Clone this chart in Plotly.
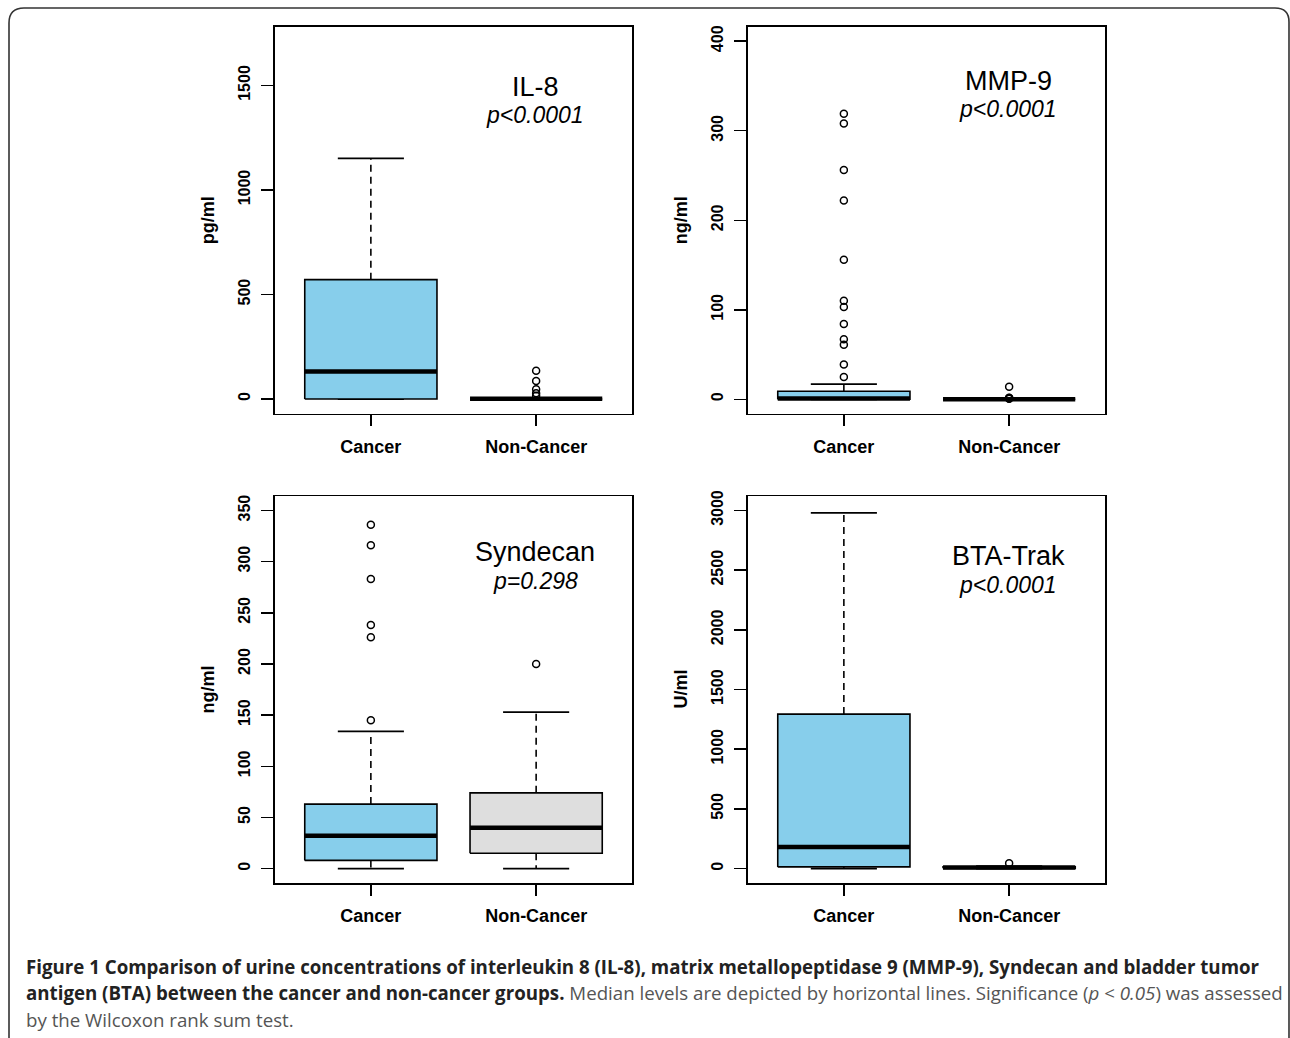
import plotly.graph_objects as go

W, H = 1290, 1038

# ---------------- data ----------------
categories = ["Cancer", "Non-Cancer"]
panel_names = ["IL-8", "MMP-9", "Syndecan", "BTA-Trak"]
p_labels = ["p<0.0001", "p<0.0001", "p=0.298", "p<0.0001"]
units = ["pg/ml", "ng/ml", "ng/ml", "U/ml"]

# five-number summaries per panel: [Cancer, Non-Cancer]
il8_lower = [0, 0];    il8_q1 = [0, 0];     il8_med = [132, 1];   il8_q3 = [571, 2];    il8_upper = [1151, 4]
il8_out = [[], [16, 28, 47, 86, 135]]

mmp_lower = [0, 0];    mmp_q1 = [0, 0];     mmp_med = [1, 0];     mmp_q3 = [9, 0.5];    mmp_upper = [17, 0.8]
mmp_out = [[319, 308, 256, 222, 156, 110, 103, 84, 67, 61, 39, 25], [14, 0.6, 1.0, 1.4, 1.8]]

syn_lower = [0, 0];    syn_q1 = [8, 15];    syn_med = [32, 40];   syn_q3 = [63, 74];    syn_upper = [134, 153]
syn_out = [[336, 316, 283, 238, 226, 145], [200]]

bta_lower = [0, 0];    bta_q1 = [14, 2];    bta_med = [181, 8];   bta_q3 = [1294, 14];  bta_upper = [2980, 20]
bta_out = [[], [45]]

y_ticks = [[0, 500, 1000, 1500], [0, 100, 200, 300, 400],
           [0, 50, 100, 150, 200, 250, 300, 350], [0, 500, 1000, 1500, 2000, 2500, 3000]]
y_ranges = [[-70, 1780], [-16, 416], [-14, 364], [-120, 3120]]

box_fill = ["#87CEEB", "#DEDEDE"]

panels = [
    (il8_lower, il8_q1, il8_med, il8_q3, il8_upper, il8_out),
    (mmp_lower, mmp_q1, mmp_med, mmp_q3, mmp_upper, mmp_out),
    (syn_lower, syn_q1, syn_med, syn_q3, syn_upper, syn_out),
    (bta_lower, bta_q1, bta_med, bta_q3, bta_upper, bta_out),
]

# ---------------- layout geometry (pixels) ----------------
frames = [(275, 632, 21, 410), (748, 1105, 21, 410), (275, 632, 493, 882), (748, 1105, 493, 882)]
px = lambda v: v / W
py = lambda v: 1 - v / H

FONT = "Liberation Sans, Arial, sans-serif"
fig = go.Figure()
annotations = []
layout = {}

HALF = 0.4     # half box width in category units
STAPLE = 0.2

for i, (lo, q1, med, q3, up, outs) in enumerate(panels):
    n = "" if i == 0 else str(i + 1)
    xa, ya = "x" + n, "y" + n
    for j, cat in enumerate(categories):
        pos = j + 1
        # whiskers (dashed)
        fig.add_trace(go.Scatter(x=[pos, pos, None, pos, pos], y=[q3[j], up[j], None, q1[j], lo[j]],
                                 mode="lines", line=dict(color="black", width=1.6, dash="7px,5px"),
                                 xaxis=xa, yaxis=ya, hoverinfo="skip", showlegend=False))
        # staples
        fig.add_trace(go.Scatter(x=[pos - STAPLE, pos + STAPLE, None, pos - STAPLE, pos + STAPLE],
                                 y=[up[j], up[j], None, lo[j], lo[j]],
                                 mode="lines", line=dict(color="black", width=1.8),
                                 xaxis=xa, yaxis=ya, hoverinfo="skip", showlegend=False))
        # box
        fig.add_trace(go.Scatter(x=[pos - HALF, pos + HALF, pos + HALF, pos - HALF, pos - HALF],
                                 y=[q1[j], q1[j], q3[j], q3[j], q1[j]],
                                 mode="lines", fill="toself", fillcolor=box_fill[j],
                                 line=dict(color="black", width=1.6),
                                 xaxis=xa, yaxis=ya, hoverinfo="skip", showlegend=False))
        # median
        fig.add_trace(go.Scatter(x=[pos - HALF, pos + HALF], y=[med[j], med[j]],
                                 mode="lines", line=dict(color="black", width=4.5),
                                 xaxis=xa, yaxis=ya, hoverinfo="skip", showlegend=False))
        # outliers
        if outs[j]:
            fig.add_trace(go.Scatter(x=[pos] * len(outs[j]), y=outs[j], mode="markers",
                                     marker=dict(symbol="circle-open", size=7, color="black",
                                                 line=dict(width=1.5, color="black")),
                                     xaxis=xa, yaxis=ya, hoverinfo="skip", showlegend=False))

    x0, x1, y0, y1 = frames[i]
    common = dict(showgrid=False, zeroline=False, showline=True, mirror=True,
                  linecolor="black", linewidth=1.6, ticks="outside", tickcolor="black",
                  tickwidth=1.5)
    layout["xaxis" + n] = dict(common, domain=[px(x0), px(x1)], range=[0.42, 2.58],
                               tickvals=[1, 2], ticktext=categories, ticklen=11,
                               ticklabelstandoff=5,
                               tickfont=dict(family=FONT, size=18, color="black", weight="bold"),
                               anchor=ya)
    layout["yaxis" + n] = dict(common, domain=[py(y1), py(y0)], range=y_ranges[i],
                               tickvals=y_ticks[i], ticktext=[str(t) for t in y_ticks[i]],
                               ticklen=12, tickangle=-90, ticklabelstandoff=5,
                               tickfont=dict(family=FONT, size=16, color="black", weight="bold"),
                               anchor=xa)
    title_x = [535, 1008, 535, 1008][i]
    title_y = [81, 75, 549, 553][i]
    annotations.append(dict(x=px(title_x), y=py(title_y), xref="paper", yref="paper",
                            text=panel_names[i], showarrow=False, xanchor="center", yanchor="middle",
                            font=dict(family=FONT, size=27, color="black")))
    annotations.append(dict(x=px(title_x), y=py(title_y + 29), xref="paper", yref="paper",
                            text="<i>" + p_labels[i] + "</i>", showarrow=False,
                            xanchor="center", yanchor="middle",
                            font=dict(family=FONT, size=23, color="black")))
    annotations.append(dict(x=px(x0 - 67), y=py((y0 + y1) / 2), xref="paper", yref="paper",
                            text="<b>" + units[i] + "</b>", showarrow=False, textangle=-90,
                            xanchor="center", yanchor="middle",
                            font=dict(family=FONT, size=18, color="black")))

# ---------------- caption ----------------
CAP_FONT = "Open Sans, sans-serif"
cap_lines = [
    "<b>Figure 1 Comparison of urine concentrations of interleukin 8 (IL-8), matrix metallopeptidase 9 (MMP-9), Syndecan and bladder tumor</b>",
    "<b>antigen (BTA) between the cancer and non-cancer groups.</b> <span style='color:#555555'>Median levels are depicted by horizontal lines. Significance (<i>p</i> &lt; <i>0.05</i>) was assessed</span>",
    "<span style='color:#555555'>by the Wilcoxon rank sum test.</span>",
]
for k, line in enumerate(cap_lines):
    annotations.append(dict(x=px(24), y=py(966 + 26.5 * k), xref="paper", yref="paper", text=line,
                            showarrow=False, xanchor="left", yanchor="middle",
                            font=dict(family=CAP_FONT, size=18.7, color="#222222")))

# rounded border
def P(xv, yv):
    return f"{px(xv):.5f},{py(yv):.5f}"
border = ("M " + P(9, 1060) + " L " + P(9, 17) + " Q " + P(9, 2) + " " + P(24, 2) +
          " L " + P(1275, 2) + " Q " + P(1289, 2) + " " + P(1289, 16) + " L " + P(1289, 1060))

fig.update_layout(
    width=W, height=H, margin=dict(l=0, r=0, t=0, b=0),
    paper_bgcolor="white", plot_bgcolor="white",
    showlegend=False, annotations=annotations,
    shapes=[dict(type="path", path=border, xref="paper", yref="paper",
                 line=dict(color="#333333", width=1.6))],
    **layout,
)

fig.write_html("out.html",
               config={"displayModeBar": False, "staticPlot": True},
               post_script="document.body.style.margin='0';document.body.style.padding='0';"
                           "document.body.style.overflow='hidden';"
                           "document.documentElement.style.overflow='hidden';"
                           "var gd=document.getElementById('{plot_id}');"
                           "gd.style.position='absolute';gd.style.top='0px';gd.style.left='0px';")
